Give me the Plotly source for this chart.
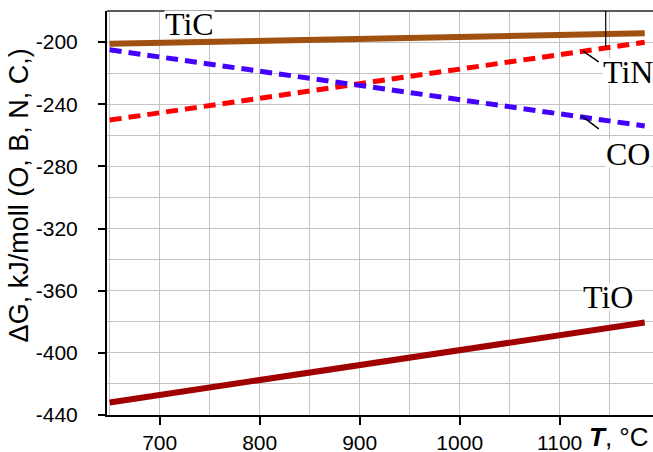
import plotly.graph_objects as go

# Temperature, °C
T = [650, 900, 1185]
# ΔG values, kJ/mol
dG_TiC = [-201.1, -197.8, -194.3]
dG_TiN = [-250.2, -226.6, -200.1]
dG_CO = [-205.0, -227.8, -254.0]
dG_TiO = [-431.9, -407.8, -380.5]

x_ticks = [700, 800, 900, 1000, 1100]
y_ticks = [-440, -400, -360, -320, -280, -240, -200]

fig = go.Figure()

fig.add_trace(go.Scatter(x=T, y=dG_TiO, mode="lines",
                         line=dict(color="#A00000", width=6)))
fig.add_trace(go.Scatter(x=T, y=dG_TiN, mode="lines",
                         line=dict(color="#FF0000", width=5, dash="12px,7px")))
fig.add_trace(go.Scatter(x=T, y=dG_CO, mode="lines",
                         line=dict(color="#4400FF", width=5, dash="12px,7px")))
fig.add_trace(go.Scatter(x=T, y=dG_TiC, mode="lines",
                         line=dict(color="#A0500F", width=6)))

grid = "#C4C4C4"
tickfont = dict(family="Arial, Liberation Sans, sans-serif", size=21, color="black")

fig.update_layout(
    width=653, height=452,
    margin=dict(l=107, r=0, t=11, b=37, autoexpand=False),
    paper_bgcolor="white", plot_bgcolor="white",
    showlegend=False,
    xaxis=dict(
        range=[647.3, 1193.3], tickvals=x_ticks, ticktext=[str(v) for v in x_ticks],
        showgrid=True, gridcolor=grid, gridwidth=1,
        minor=dict(dtick=50, tick0=650, showgrid=True, gridcolor=grid, gridwidth=1, ticks=""),
        showline=True, linecolor="black", linewidth=2,
        ticks="outside", ticklen=8, tickwidth=1.5, tickcolor="black",
        tickfont=tickfont, zeroline=False, ticklabelstandoff=0, automargin=False,
    ),
    yaxis=dict(
        range=[-440, -180], tickvals=y_ticks, ticktext=[str(v) for v in y_ticks],
        showgrid=True, gridcolor=grid, gridwidth=1,
        minor=dict(dtick=20, tick0=-440, showgrid=True, gridcolor=grid, gridwidth=1, ticks=""),
        showline=True, linecolor="black", linewidth=2,
        ticks="outside", ticklen=7, tickwidth=1.5, tickcolor="black",
        tickfont=tickfont, zeroline=False, ticklabelstandoff=16, automargin=False,
    ),
)

# top border
fig.add_shape(type="line", xref="paper", yref="paper", x0=0, x1=1, y0=1, y1=1,
              line=dict(color="#595959", width=2))

serif = dict(family="Liberation Serif, Times New Roman, serif", size=32, color="black")
labels = [("TiC", 730, -188.5), ("TiN", 1168, -219.2), ("CO", 1168, -272.0), ("TiO", 1148, -364.3)]
for txt, lx, ly in labels:
    fig.add_annotation(x=lx, y=ly, xref="x", yref="y", text=txt, showarrow=False,
                       font=serif, bgcolor="white", borderpad=0, height=26,
                       xanchor="center", yanchor="middle", valign="middle")

# leader lines
fig.add_shape(type="line", xref="x", yref="y", x0=1123, y0=-205.6, x1=1139, y1=-212.7,
              line=dict(color="black", width=1.5))
fig.add_shape(type="line", xref="x", yref="y", x0=1122, y0=-247.5, x1=1139, y1=-255.9,
              line=dict(color="black", width=1.5))
fig.add_shape(type="line", xref="x", yref="y", x0=1146, y0=-180, x1=1146, y1=-203,
              line=dict(color="black", width=1.2))

# axis titles
fig.add_annotation(xref="paper", yref="paper", x=-0.1595, y=0.5434,
                   text="ΔG, kJ/moll (O, B, N, C,)", textangle=-90, showarrow=False,
                   font=dict(family="Arial, Liberation Sans, sans-serif", size=27, color="black"),
                   xanchor="center", yanchor="middle")
fig.add_annotation(xref="paper", yref="paper", x=0.9377, y=-0.0553,
                   text="<b><i>T</i></b>, °C", showarrow=False,
                   font=dict(family="Arial, Liberation Sans, sans-serif", size=26, color="black"),
                   xanchor="center", yanchor="middle")

fig.write_html("out.html", config={"displayModeBar": False},
               post_script="document.body.style.margin='0';document.body.style.overflow='hidden';")
